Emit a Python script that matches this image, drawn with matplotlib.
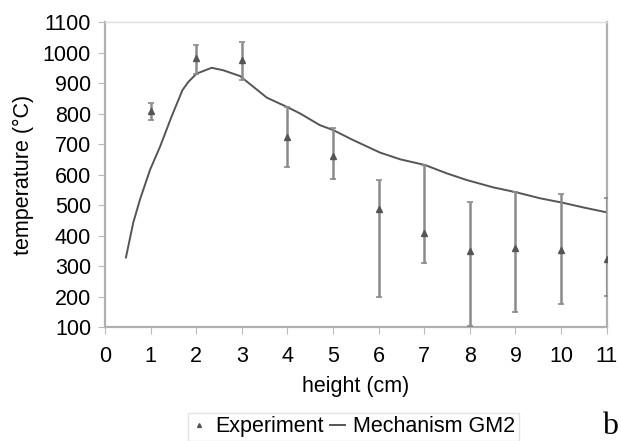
import numpy as np
import matplotlib.pyplot as plt

plt.rcParams['font.family'] = ['Liberation Sans', 'DejaVu Sans']

# experiment points
exp_h = [1, 2, 3, 4, 5, 6, 7, 8, 9, 10, 11]
exp_t = [808, 981, 975, 724, 662, 486, 408, 349, 360, 351, 324]
exp_hi = [833, 1025, 1035, 821, 752, 582, 631, 510, 542, 536, 524]
exp_lo = [779, 930, 910, 626, 585, 199, 311, 103, 149, 175, 203]

# mechanism GM2 curve
gm2_h = [0.46, 0.62, 0.77, 0.99, 1.21, 1.46, 1.70, 1.83, 2.01, 2.34, 2.59,
         2.96, 3.55, 4.0, 4.28, 4.71, 5.0, 5.44, 6.03, 6.47, 7.02, 7.49,
         7.93, 8.51, 9.01, 9.54, 10.02, 10.49, 11.0]
gm2_t = [328, 442, 519, 616, 692, 790, 877, 904, 931, 950, 942,
         923, 852, 821, 800, 762, 746, 713, 672, 650, 631, 604,
         582, 558, 542, 522, 508, 492, 476]

fig = plt.figure(figsize=(6.21, 4.41), dpi=100)
ax = fig.add_axes([0.169, 0.2585, 0.808, 0.6915])

t = np.array(exp_t)
yerr = [t - np.array(exp_lo), np.array(exp_hi) - t]
ax.errorbar(exp_h, exp_t, yerr=yerr, fmt='none', ecolor='#8a8a8a',
            elinewidth=1.8, capsize=2.5, capthick=1.2, zorder=3)
ax.plot(exp_h, exp_t, '^', color='#555555', ms=4, label='Experiment',
        zorder=4)
ax.plot(gm2_h, gm2_t, color='#555555', lw=1.4, label='Mechanism GM2',
        zorder=2)

ax.set_xlim(0, 11)
ax.set_ylim(100, 1100)
ax.set_xticks(range(0, 12))
ax.set_yticks(range(100, 1101, 100))
ax.tick_params(direction='out', length=5, color='#bbbbbb', labelsize=15.5,
               pad=5)
ax.tick_params(axis='x', pad=9)

for s in ['left', 'bottom', 'right']:
    ax.spines[s].set_color('#b0b0b0')
    ax.spines[s].set_linewidth(1.6)
ax.spines['top'].set_color('#dddddd')
ax.spines['top'].set_linewidth(1.0)

ax.set_xlabel('height (cm)', fontsize=15.5, labelpad=6)
ax.set_ylabel('temperature (°C)', fontsize=15.5, labelpad=6)

leg = fig.legend(loc='center', bbox_to_anchor=(0.569, 0.032), ncol=2,
                 fontsize=15.5, frameon=True, fancybox=False,
                 handlelength=0.7, handletextpad=0.4, columnspacing=0.3,
                 borderpad=0.15, markerscale=0.7)
leg.get_frame().set_edgecolor('#dddddd')
leg.get_frame().set_linewidth(1.0)

fig.text(0.982, 0.032, 'b', family='Liberation Serif', fontsize=23,
         ha='center', va='center')

fig.savefig('out.png', dpi=100)
